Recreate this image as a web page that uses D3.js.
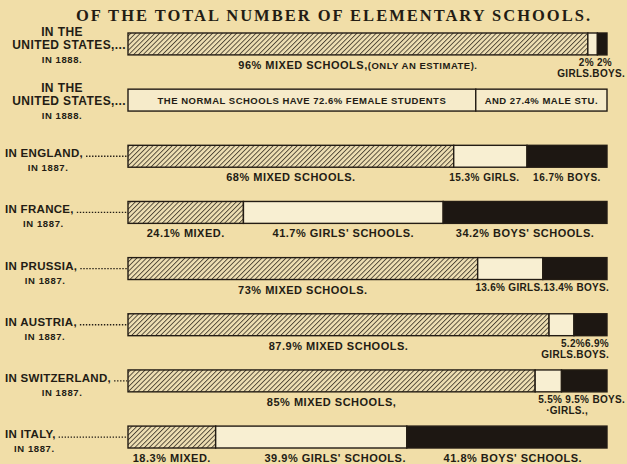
<!DOCTYPE html>
<html>
<head>
<meta charset="utf-8">
<script src="https://cdn.jsdelivr.net/npm/d3@7"></script>
<style>
  body { margin: 0; background: #f1dea8; }
  svg { display: block; }
  text { font-family: "Liberation Sans", Arial, sans-serif; font-weight: bold; fill: #231c14; }
</style>
</head>
<body>
<svg width="627" height="464"></svg>
<script>
// rows top to bottom
const rowKeys = ["us", "normal", "england", "france", "prussia", "austria", "switzerland", "italy"];
const places = ["UNITED STATES,...", "UNITED STATES,...", "IN ENGLAND,", "IN FRANCE,", "IN PRUSSIA,", "IN AUSTRIA,", "IN SWITZERLAND,", "IN ITALY,"];
const years = ["IN 1888.", "IN 1888.", "IN 1887.", "IN 1887.", "IN 1887.", "IN 1887.", "IN 1887.", "IN 1887."];

// elementary school rows (percent of schools)
const schoolRows = ["us", "england", "france", "prussia", "austria", "switzerland", "italy"];
const mixed = [96, 68, 24.1, 73, 87.9, 85, 18.3];
const girls = [2, 15.3, 41.7, 13.6, 5.2, 5.5, 39.9];
const boys = [2, 16.7, 34.2, 13.4, 6.9, 9.5, 41.8];

const mixedLabels = ["96% MIXED SCHOOLS,", "68% MIXED SCHOOLS.", "24.1% MIXED.", "73% MIXED SCHOOLS.", "87.9% MIXED SCHOOLS.", "85% MIXED SCHOOLS,", "18.3% MIXED."];
const girlsLabels = ["", "15.3% GIRLS.", "41.7% GIRLS' SCHOOLS.", "", "", "", "39.9% GIRLS' SCHOOLS."];
const boysLabels = ["", "16.7% BOYS.", "34.2% BOYS' SCHOOLS.", "", "", "", "41.8% BOYS' SCHOOLS."];
const sideNotes = [["2% 2%", "GIRLS.BOYS."], null, null, ["13.6% GIRLS.13.4% BOYS."], ["5.2%6.9%", "GIRLS.BOYS."], ["5.5% 9.5% BOYS.", "\u00b7GIRLS.,"], null];

// normal schools (percent of students)
const normalParts = ["female", "male"];
const normalValues = [72.6, 27.4];
const normalLabels = ["THE NORMAL SCHOOLS HAVE 72.6% FEMALE STUDENTS", "AND 27.4% MALE STU."];

const ink = "#231c14";
const svg = d3.select("svg");

const x = d3.scaleLinear().domain([0, 100]).range([128, 607]);
const y = d3.scaleBand().domain(rowKeys).range([33, 448]).paddingInner(0.61);
const bh = y.bandwidth();

// hatching
const defs = svg.append("defs");
defs.append("pattern")
  .attr("id", "hatch")
  .attr("patternUnits", "userSpaceOnUse")
  .attr("width", 3.4)
  .attr("height", 6)
  .attr("patternTransform", "rotate(45)")
  .call(p => {
    p.append("rect").attr("width", 3.4).attr("height", 6).attr("fill", "#efe0b4");
    p.append("line").attr("x1", 0.5).attr("y1", 0).attr("x2", 0.5).attr("y2", 6)
      .attr("stroke", ink).attr("stroke-width", 0.8);
  });

// title
svg.append("text")
  .attr("x", 333)
  .attr("y", 21)
  .attr("text-anchor", "middle")
  .attr("textLength", 514)
  .attr("lengthAdjust", "spacing")
  .style("font-family", "'Liberation Serif', 'DejaVu Serif', serif")
  .style("font-size", "16.5px")
  .text("OF THE TOTAL NUMBER OF ELEMENTARY SCHOOLS.");

// left labels
rowKeys.forEach(function (k, i) {
  const cy = y(k) + bh / 2;
  const isUS = i < 2;
  const g = svg.append("g");
  if (isUS) {
    g.append("text").attr("x", 62).attr("y", cy - 8).attr("text-anchor", "middle")
      .style("font-size", "12px").style("letter-spacing", "0.4px").text("IN THE");
    g.append("text").attr("x", 126).attr("y", cy + 5).attr("text-anchor", "end")
      .style("font-size", "12px").style("letter-spacing", "0.4px").text(places[i]);
    g.append("text").attr("x", 62).attr("y", cy + 19).attr("text-anchor", "middle")
      .style("font-size", "9.5px").style("letter-spacing", "0.6px").text(years[i]);
  } else {
    const t = g.append("text").attr("x", 5).attr("y", cy + 1)
      .style("font-size", "11.5px").style("letter-spacing", "0.3px").text(places[i]);
    const w = t.node().getComputedTextLength();
    g.append("line")
      .attr("x1", 5 + w + 3).attr("x2", 127)
      .attr("y1", cy).attr("y2", cy)
      .attr("stroke", ink).attr("stroke-width", 1.3)
      .attr("stroke-dasharray", "1.4,1.6");
    g.append("text").attr("x", 5 + w / 2 + 4).attr("y", cy + 15).attr("text-anchor", "middle")
      .style("font-size", "9.5px").style("letter-spacing", "0.6px").text(years[i]);
  }
});

// elementary school bars
schoolRows.forEach(function (k, i) {
  const top = y(k);
  const segs = [
    { kind: "mixed", a: 0, b: mixed[i] },
    { kind: "girls", a: mixed[i], b: mixed[i] + girls[i] },
    { kind: "boys", a: mixed[i] + girls[i], b: mixed[i] + girls[i] + boys[i] }
  ];
  const g = svg.append("g");
  g.selectAll("rect")
    .data(segs)
    .enter()
    .append("rect")
    .attr("x", d => x(d.a))
    .attr("y", top)
    .attr("width", d => x(d.b) - x(d.a))
    .attr("height", bh)
    .attr("fill", d => d.kind == "mixed" ? "url(#hatch)" : d.kind == "girls" ? "#f8efd2" : "#1d1712")
    .attr("stroke", ink)
    .attr("stroke-width", 1.4);

  const base = top + bh + 14;
  // mixed label
  const mt = g.append("text")
    .attr("x", (x(segs[0].a) + x(segs[0].b)) / 2)
    .attr("y", base)
    .attr("text-anchor", "middle")
    .style("font-size", "11px")
    .style("letter-spacing", "0.5px")
    .text(mixedLabels[i]);
  if (k == "us") {
    mt.append("tspan").style("font-size", "9.5px").text("(ONLY AN ESTIMATE).");
  }
  if (girlsLabels[i]) {
    g.append("text")
      .attr("x", (x(segs[1].a) + x(segs[1].b)) / 2 + (k == "italy" ? 24 : k == "england" ? -6 : 0))
      .attr("y", base)
      .attr("text-anchor", "middle")
      .style("font-size", k == "england" ? "10px" : "11px")
      .style("letter-spacing", "0.5px")
      .text(girlsLabels[i]);
  }
  if (boysLabels[i]) {
    g.append("text")
      .attr("x", (x(segs[2].a) + x(segs[2].b)) / 2 + (k == "italy" ? 6 : 0))
      .attr("y", base)
      .attr("text-anchor", "middle")
      .style("font-size", k == "england" ? "10px" : "11px")
      .style("letter-spacing", "0.5px")
      .text(boysLabels[i]);
  }
  const note = sideNotes[i];
  if (note) {
    const right = k == "us" ? 625 : k == "switzerland" ? 625 : 609;
    note.forEach(function (line, j) {
      let lx = right;
      if (k == "us" && j == 0) lx = 612;
      if (k == "switzerland" && j == 1) lx = 588;
      g.append("text")
        .attr("x", lx)
        .attr("y", base - 3 + j * 11)
        .attr("text-anchor", "end")
        .style("font-size", "10px")
        .style("letter-spacing", "0.3px")
        .text(line);
    });
  }
});

// normal schools box
const ntop = y("normal");
let acc = 0;
normalParts.forEach(function (p, i) {
  const a = acc, b = acc + normalValues[i];
  acc = b;
  svg.append("rect")
    .attr("x", x(a))
    .attr("y", ntop)
    .attr("width", x(b) - x(a))
    .attr("height", bh)
    .attr("fill", "#f6ebca")
    .attr("stroke", ink)
    .attr("stroke-width", 1.4);
  svg.append("text")
    .attr("x", (x(a) + x(b)) / 2)
    .attr("y", ntop + bh / 2 + 3.5)
    .attr("text-anchor", "middle")
    .style("font-size", "9.5px")
    .style("letter-spacing", "0.5px")
    .text(normalLabels[i]);
});
</script>
</body>
</html>
